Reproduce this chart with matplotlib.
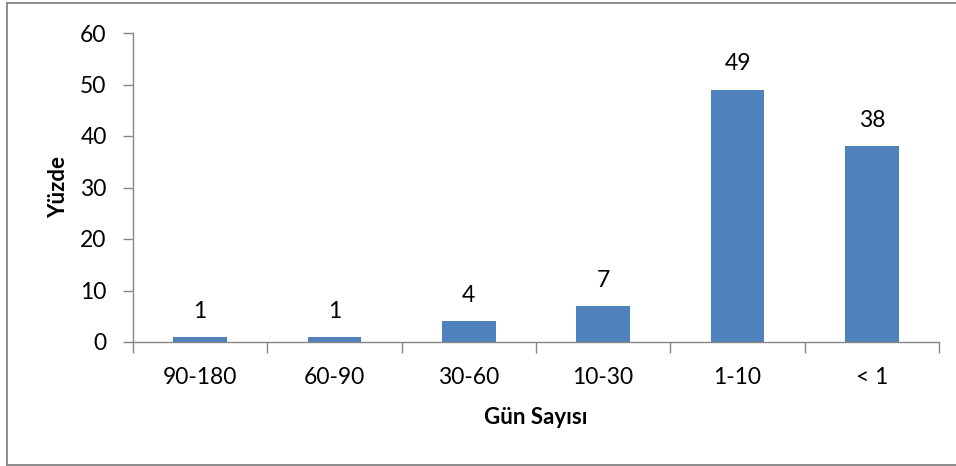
import matplotlib
matplotlib.use("Agg")
import matplotlib.pyplot as plt
from matplotlib.lines import Line2D
import numpy as np

categories = ["90-180", "60-90", "30-60", "10-30", "1-10", "< 1"]
values = [1, 1, 4, 7, 49, 38]
y_ticks = [0, 10, 20, 30, 40, 50, 60]

plt.rcParams["font.family"] = ["Lato", "DejaVu Sans"]

W, H = 956, 466
fig = plt.figure(figsize=(W / 100, H / 100), dpi=100)
fig.patch.set_facecolor("white")

ax = fig.add_axes([133 / W, 1 - 342 / H, (939 - 133) / W, (342 - 33) / H])

axis_grey = "#868686"
x = np.arange(len(categories))
ax.bar(x, values, width=0.40, color="#4F81BD", edgecolor="none", zorder=2)

for xi, v in zip(x, values):
    ax.annotate(str(v), (xi, v), xytext=(0, 11), textcoords="offset points",
                ha="center", va="bottom", fontsize=16.5, color="black")

ax.set_xlim(-0.5, len(categories) - 0.5)
ax.set_ylim(0, 60)
ax.set_yticks(y_ticks)
ax.tick_params(axis="y", labelsize=16.5, length=7, width=1, color=axis_grey,
               direction="out", pad=12)

# category labels centred under bars, ticks at category boundaries
ax.set_xticks(x)
ax.set_xticklabels(categories, fontsize=16.5)
ax.tick_params(axis="x", which="major", length=0, pad=18)
ax.set_xticks(np.arange(-0.5, len(categories), 1.0), minor=True)
ax.tick_params(axis="x", which="minor", length=8, width=1, color=axis_grey,
               direction="out")

for s in ["top", "right"]:
    ax.spines[s].set_visible(False)
for s in ["left", "bottom"]:
    ax.spines[s].set_color(axis_grey)
    ax.spines[s].set_linewidth(1)

ax.set_ylabel("Yüzde", fontsize=16, fontweight="bold", labelpad=8)
ax.set_xlabel("Gün Sayısı", fontsize=16, fontweight="bold", labelpad=14)

# chart area frame (open on the right side)
frame_kw = dict(color="#8c8c8c", linewidth=1.4, transform=fig.transFigure)
fig.add_artist(Line2D([7 / W, 1.0], [1 - 3 / H, 1 - 3 / H], **frame_kw))
fig.add_artist(Line2D([7 / W, 1.0], [1 - 464.5 / H, 1 - 464.5 / H], **frame_kw))
fig.add_artist(Line2D([7 / W, 7 / W], [1 - 3 / H, 1 - 464.5 / H], **frame_kw))

fig.savefig("out.png", dpi=100, facecolor="white")
